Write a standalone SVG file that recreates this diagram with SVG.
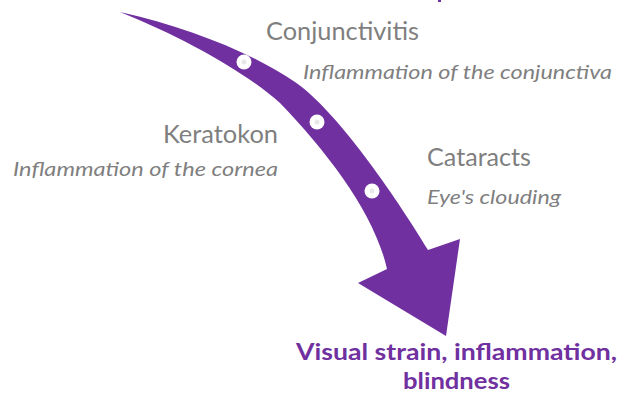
<svg xmlns="http://www.w3.org/2000/svg" width="632" height="394" viewBox="0 0 632 394">
<style>
.title{font-family:Lato,"Open Sans","Liberation Sans",sans-serif;font-size:25px;fill:#7f7f7f}
.desc{font-family:Lato,"Open Sans","Liberation Sans",sans-serif;font-size:19.5px;font-style:italic;fill:#7f7f7f}
.outcome{font-family:Lato,"Open Sans","Liberation Sans",sans-serif;font-size:23px;font-weight:bold;fill:#7030a0}
.dot{fill:#ffffff}
.dotc{fill:#e8e8e8}
</style>
<rect width="632" height="394" fill="#ffffff"/>
<rect x="438" y="0" width="3" height="2" fill="#7030a0"/>
<g id="arrow">
<path d="M120,12 C190,28 250,52 295,82 C335,109 395,195 428,250 L460,239 L446,336 L358,283 L387,269 C375,215 330,155 280,103 C248,74 185,38 120,12 Z" fill="#7030a0"/>
</g>
<g id="dots">
<circle class="dot" cx="244" cy="62" r="7.5"/><circle class="dotc" cx="244" cy="62" r="2.5"/>
<circle class="dot" cx="317" cy="122" r="7.5"/><circle class="dotc" cx="317" cy="122" r="2.5"/>
<circle class="dot" cx="372" cy="191" r="7.5"/><circle class="dotc" cx="372" cy="191" r="2.5"/>
</g>
<g id="conjunctivitis">
<text class="title" x="266" y="39.5" textLength="153" lengthAdjust="spacingAndGlyphs">Conjunctivitis</text>
<text class="desc" x="303" y="79" textLength="309" lengthAdjust="spacingAndGlyphs">Inflammation of the conjunctiva</text>
</g>
<g id="keratokon">
<text class="title" x="163" y="143" textLength="115" lengthAdjust="spacingAndGlyphs">Keratokon</text>
<text class="desc" x="13" y="176" textLength="265" lengthAdjust="spacingAndGlyphs">Inflammation of the cornea</text>
</g>
<g id="cataracts">
<text class="title" x="427" y="166" textLength="104" lengthAdjust="spacingAndGlyphs">Cataracts</text>
<text class="desc" x="427" y="204" textLength="134" lengthAdjust="spacingAndGlyphs">Eye's clouding</text>
</g>
<g id="outcome">
<text class="outcome" x="456.5" y="359.5" text-anchor="middle" textLength="321" lengthAdjust="spacingAndGlyphs">Visual strain, inflammation,</text>
<text class="outcome" x="456.5" y="389" text-anchor="middle" textLength="107" lengthAdjust="spacingAndGlyphs">blindness</text>
</g>
</svg>
